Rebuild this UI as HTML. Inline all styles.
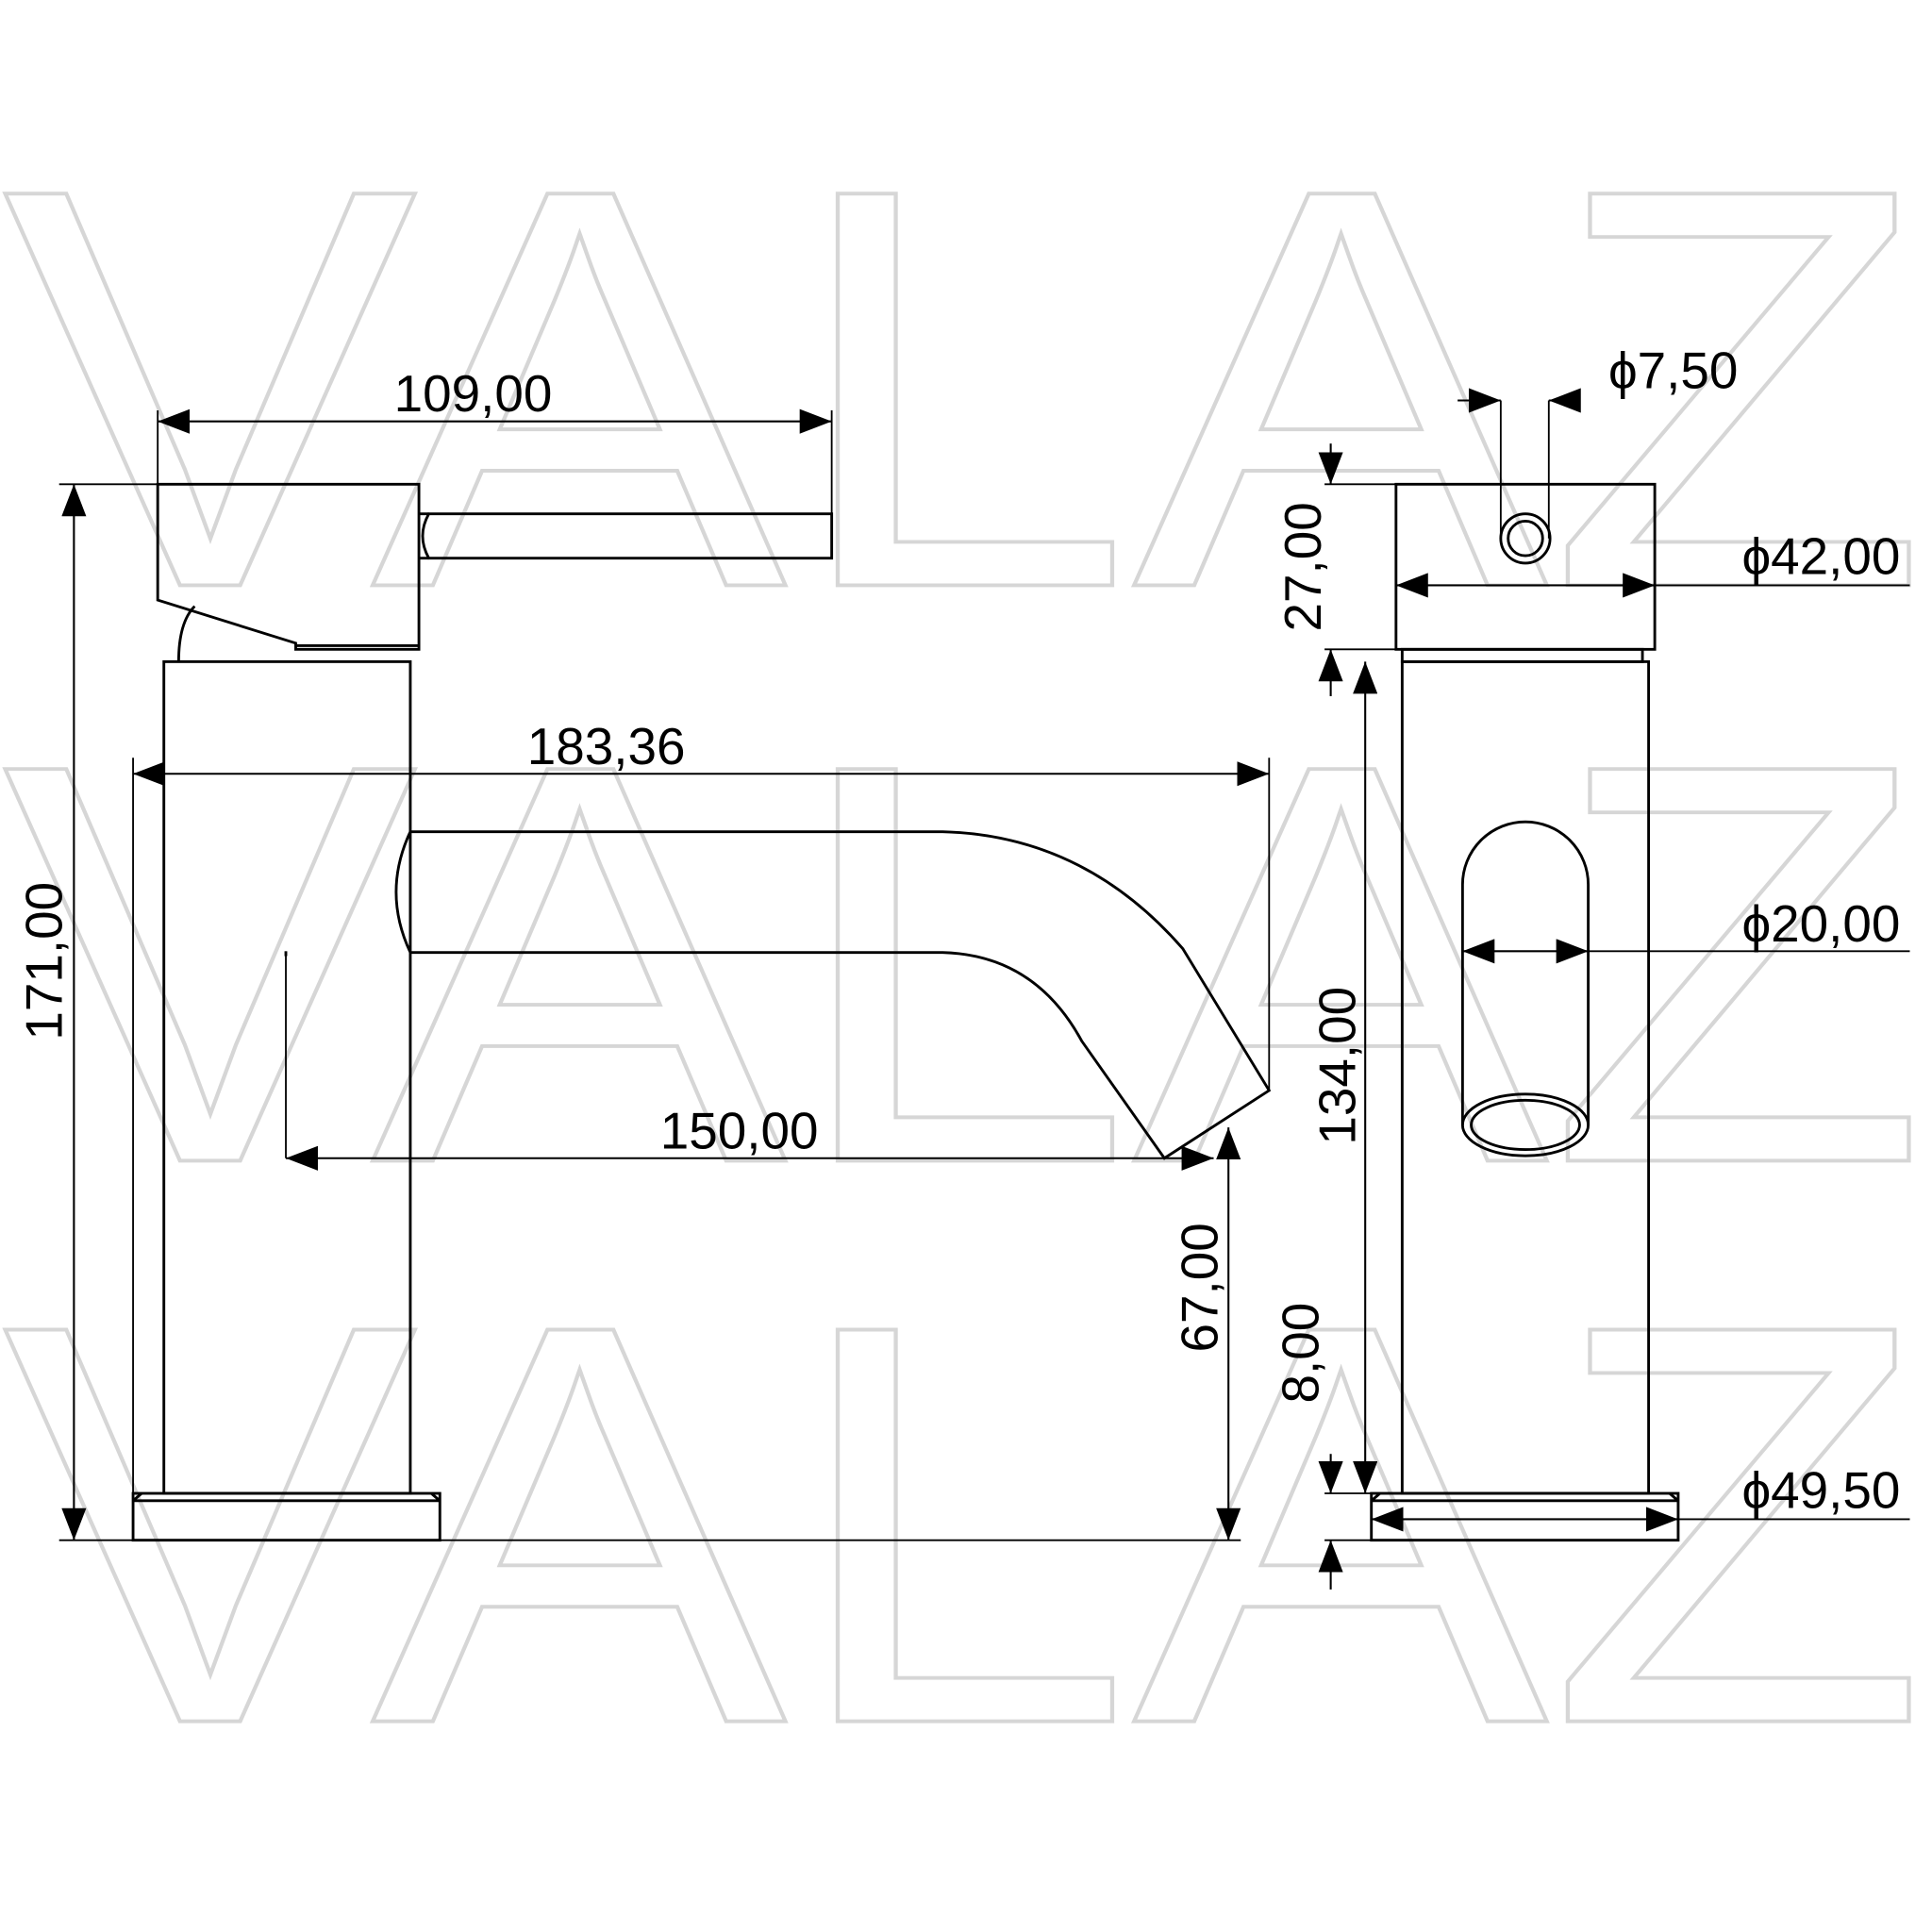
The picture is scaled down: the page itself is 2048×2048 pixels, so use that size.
<!DOCTYPE html>
<html><head><meta charset="utf-8"><style>
html,body{margin:0;padding:0;background:#fff;}
svg{display:block;}
text{font-family:"Liberation Sans",sans-serif;}
</style></head><body>
<svg width="2048" height="2048" viewBox="0 0 1568 1568" xmlns="http://www.w3.org/2000/svg">
<defs>
<marker id="a" viewBox="0 0 26 20" refX="26" refY="10" markerWidth="26" markerHeight="20" markerUnits="userSpaceOnUse" orient="auto-start-reverse">
<path d="M0,0 L26,10 L0,20 Z" fill="#000"/></marker>
</defs>
<rect width="1568" height="1568" fill="#fff"/>
<g fill="none" stroke="#d6d6d6" stroke-width="3" font-size="462">
<text x="2" y="475" textLength="1563" lengthAdjust="spacingAndGlyphs">VALAZ</text>
<text x="2" y="942" textLength="1563" lengthAdjust="spacingAndGlyphs">VALAZ</text>
<text x="2" y="1397" textLength="1563" lengthAdjust="spacingAndGlyphs">VALAZ</text>
</g>
<g fill="none" stroke="#000" stroke-width="2.2">
<path d="M128,393 L340,393 L340,527 L240,527 L240,522 L128,487 Z"/>
<path d="M240,524 L340,524"/>
<path d="M348,417 L675,417 L675,453 L348,453 Q338,435 348,417 Z"/>
<path d="M340,417 L348,417 M340,453 L348,453"/>
<path d="M145,537 Q145,505 158,492"/>
<rect x="133" y="537" width="200" height="675"/>
<rect x="108" y="1212" width="249" height="38"/>
<path d="M115,1212 L108,1218 M350,1212 L357,1218 M108,1218 L357,1218"/>
<path d="M333,675 L765,675 Q880,678 960,770 L1030,885 L945,940 L878,845 Q840,775 765,773 L333,773"/>
<path d="M333,675 Q310,724 333,773"/>
<path d="M232,772 L232,776"/>
<rect x="1133" y="393" width="210" height="134"/>
<rect x="1138" y="527" width="195" height="10"/>
<circle cx="1238" cy="437" r="20"/>
<circle cx="1238" cy="437" r="14"/>
<rect x="1138" y="537" width="200" height="675"/>
<rect x="1113" y="1212" width="249" height="38"/>
<path d="M1120,1212 L1113,1218 M1355,1212 L1362,1218 M1113,1218 L1362,1218"/>
<path d="M1187,913 L1187,718 A51,51 0 0 1 1289,718 L1289,913"/>
<ellipse cx="1238" cy="913" rx="51" ry="25"/>
<ellipse cx="1238" cy="913" rx="44" ry="20"/>
</g>
<g fill="none" stroke="#000" stroke-width="1.4">
<path d="M128,333 L128,393 M675,333 L675,420"/>
<path d="M48,393 L128,393 M48,1250 L108,1250"/>
<path d="M108,615 L108,1212 M1030,615 L1030,885"/>
<path d="M232,776 L232,940"/>
<path d="M357,1250 L1007,1250"/>
<path d="M1218,325 L1218,437 M1257,325 L1257,437"/>
<path d="M1075,393 L1133,393 M1075,527 L1133,527"/>
<path d="M1075,1212 L1138,1212 M1075,1250 L1113,1250"/>
<path d="M1343,475 L1550,475 M1289,772 L1550,772 M1362,1233 L1550,1233"/>
</g>
<g fill="none" stroke="#000" stroke-width="1.6">
<path d="M128,342 L675,342" marker-start="url(#a)" marker-end="url(#a)"/>
<path d="M60,393 L60,1250" marker-start="url(#a)" marker-end="url(#a)"/>
<path d="M108,628 L1030,628" marker-start="url(#a)" marker-end="url(#a)"/>
<path d="M232,940 L985,940" marker-start="url(#a)" marker-end="url(#a)"/>
<path d="M997,940 L997,915" marker-end="url(#a)"/>
<path d="M997,940 L997,1250" marker-end="url(#a)"/>
<path d="M1183,325 L1218,325" marker-end="url(#a)"/>
<path d="M1282,325 L1257,325" marker-end="url(#a)"/>
<path d="M1133,475 L1343,475" marker-start="url(#a)" marker-end="url(#a)"/>
<path d="M1187,772 L1289,772" marker-start="url(#a)" marker-end="url(#a)"/>
<path d="M1113,1233 L1362,1233" marker-start="url(#a)" marker-end="url(#a)"/>
<path d="M1080,360 L1080,393" marker-end="url(#a)"/>
<path d="M1080,565 L1080,527" marker-end="url(#a)"/>
<path d="M1108,537 L1108,1212" marker-start="url(#a)" marker-end="url(#a)"/>
<path d="M1080,1180 L1080,1212" marker-end="url(#a)"/>
<path d="M1080,1290 L1080,1250" marker-end="url(#a)"/>
</g>
<g fill="#000" font-size="42" text-anchor="middle">
<text x="384" y="334">109,00</text>
<text x="492" y="620">183,36</text>
<text x="600" y="932">150,00</text>
<text transform="translate(50,780) rotate(-90)">171,00</text>
<text transform="translate(988,1045) rotate(-90)">67,00</text>
<text transform="translate(1072,460) rotate(-90)">27,00</text>
<text transform="translate(1100,865) rotate(-90)">134,00</text>
<text transform="translate(1070,1098) rotate(-90)">8,00</text>
<text x="1358" y="315">ϕ7,50</text>
<text x="1478" y="466">ϕ42,00</text>
<text x="1478" y="764">ϕ20,00</text>
<text x="1478" y="1224">ϕ49,50</text>
</g>
</svg>
</body></html>
